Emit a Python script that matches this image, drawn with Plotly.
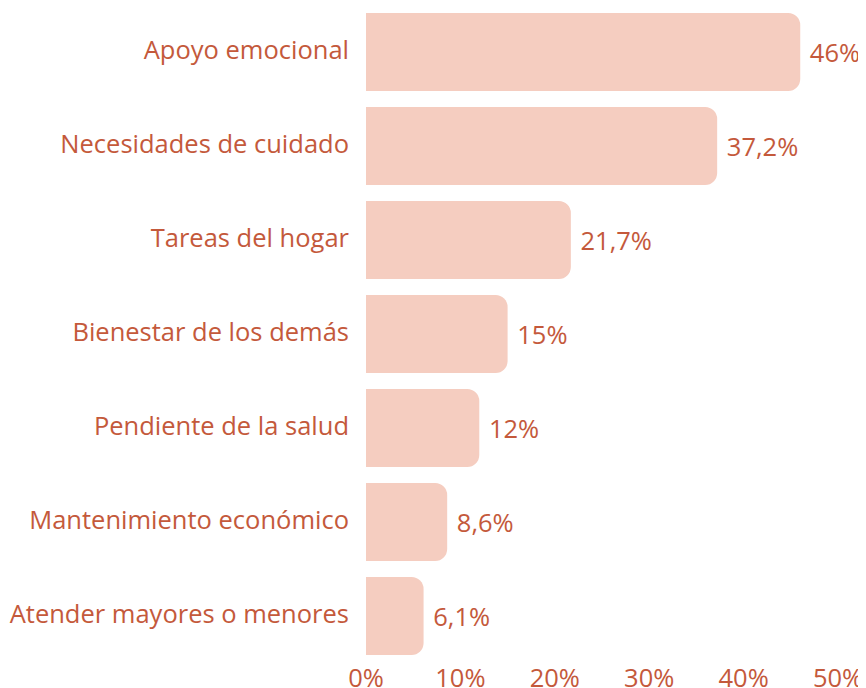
import plotly.graph_objects as go

categories = ["Apoyo emocional", "Necesidades de cuidado", "Tareas del hogar",
              "Bienestar de los demás", "Pendiente de la salud",
              "Mantenimiento económico", "Atender mayores o menores"]
values = [46, 37.2, 21.7, 15, 12, 8.6, 6.1]
tick_vals = [0, 10, 20, 30, 40, 50]
tick_text = ["0%", "10%", "20%", "30%", "40%", "50%"]

TEXT = "#c4593b"
BAR = "#f5cdc0"
FONT = "Open Sans"
FS = 25.5

labels = [(" " + (f"{v:g}".replace(".", ",")) + "%") for v in values]

fig = go.Figure(go.Bar(
    x=values, y=categories, orientation="h",
    marker=dict(color=BAR, line=dict(width=0), cornerradius=12),
    text=labels, textposition="outside", cliponaxis=False,
    textfont=dict(color=TEXT, size=FS, family=FONT),
    hoverinfo="skip",
))

fig.update_layout(
    width=858, height=680,
    margin=dict(l=358, r=28, t=0, b=26, autoexpand=False),
    plot_bgcolor="white", paper_bgcolor="white",
    bargap=0.17,
    showlegend=False,
    font=dict(family=FONT, color=TEXT, size=FS),
    xaxis=dict(range=[0, 50], tickvals=tick_vals, ticktext=tick_text,
               showgrid=False, zeroline=False, showline=False,
               ticks="", ticklabelstandoff=-2, automargin=False,
               tickfont=dict(size=FS, color=TEXT, family=FONT)),
    yaxis=dict(range=[6.489, -0.468], showgrid=False, zeroline=False,
               showline=False, ticks="", ticklabelstandoff=16,
               ticklabelshift=2, automargin=False,
               tickfont=dict(size=FS, color=TEXT, family=FONT)),
)

fig.write_html("out.html")
